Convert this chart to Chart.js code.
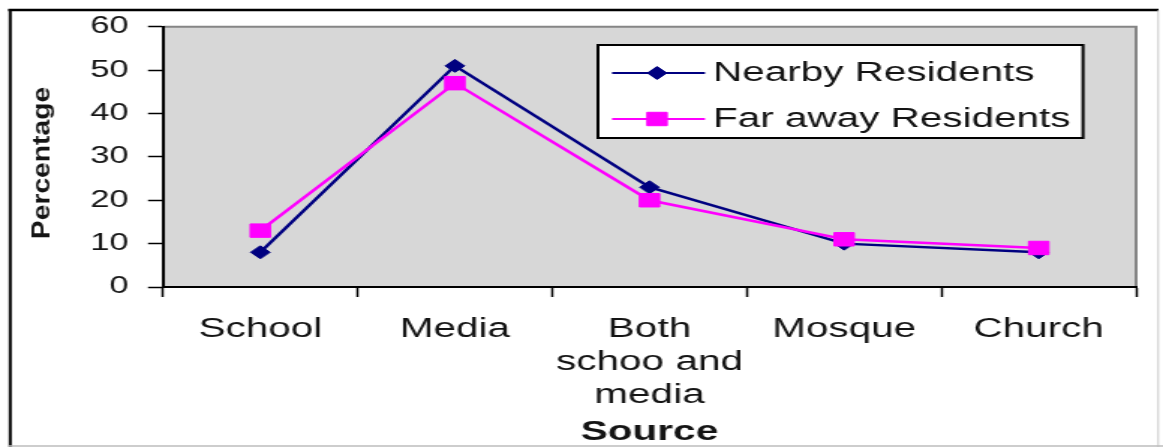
<!DOCTYPE html>
<html>
<head>
<meta charset="utf-8">
<script src="https://cdn.jsdelivr.net/npm/chart.js@4/dist/chart.umd.min.js"></script>
<style>
  html, body { margin: 0; padding: 0; background: #ffffff; overflow: hidden; }
  canvas { display: block; }
</style>
</head>
<body>
<!-- drawn on a 776px-wide canvas and shown 1163px wide (Excel-style wide look) -->
<canvas id="chart" width="776" height="447" style="width:1163px;height:447px"></canvas>
<script>
// ---- data ----
const sources = ['School', 'Media', ['Both', 'schoo and', 'media'], 'Mosque', 'Church'];
const nearbyResidents = [8, 51, 23, 10, 8];
const farAwayResidents = [13, 47, 20, 11, 9];
const seriesNames = ['Nearby Residents', 'Far away Residents'];
const yAxisTitle = 'Percentage';
const xAxisTitle = 'Source';

// ---- look ----
const STRETCH = 1163 / 776;
const FONT = '"Liberation Sans", Arial, Helvetica, sans-serif';
const NAVY = '#000080';
const MAGENTA = '#ff00ff';
const TEXT = '#141414';

// page frame, grey plot area, y title and the boxed legend
const frameAndLegend = {
  id: 'frameAndLegend',
  beforeDraw(chart) {
    const { ctx, chartArea: a, width, height } = chart;
    ctx.save();
    ctx.fillStyle = '#ffffff';
    ctx.fillRect(0, 0, width, height);

    // outer frame
    ctx.strokeStyle = '#000000';
    ctx.lineWidth = 2.5;
    ctx.beginPath(); ctx.moveTo(5.5, 10); ctx.lineTo(773, 10); ctx.stroke();
    ctx.lineWidth = 2;
    ctx.beginPath(); ctx.moveTo(6.8, 9); ctx.lineTo(6.8, 447); ctx.stroke();
    ctx.strokeStyle = '#bdbdbd';
    ctx.lineWidth = 1.5;
    ctx.beginPath(); ctx.moveTo(6, 446); ctx.lineTo(776, 446); ctx.stroke();
    ctx.lineWidth = 0.8;
    ctx.beginPath(); ctx.moveTo(772.8, 10); ctx.lineTo(772.8, 447); ctx.stroke();

    // plot area
    ctx.fillStyle = '#d7d7d7';
    ctx.fillRect(a.left, a.top, a.right - a.left, a.bottom - a.top);
    ctx.strokeStyle = '#858585';
    ctx.lineWidth = 2;
    ctx.beginPath();
    ctx.moveTo(a.left, a.top);
    ctx.lineTo(a.right, a.top);
    ctx.lineTo(a.right, a.bottom);
    ctx.stroke();
    ctx.restore();
  },
  afterDraw(chart) {
    const { ctx } = chart;
    ctx.save();

    // rotated y-axis title, kept at its natural proportions
    ctx.translate(28, 163);
    ctx.scale(1 / STRETCH, 1);
    ctx.rotate(-Math.PI / 2);
    ctx.scale(1.13, 1);
    ctx.fillStyle = TEXT;
    ctx.font = 'bold 25px ' + FONT;
    ctx.textAlign = 'center';
    ctx.textBaseline = 'middle';
    ctx.fillText(yAxisTitle, 0, 0);
    ctx.restore();

    // legend box
    ctx.save();
    const box = { left: 399, top: 45, right: 722.6, bottom: 138 };
    ctx.fillStyle = '#ffffff';
    ctx.fillRect(box.left, box.top, box.right - box.left, box.bottom - box.top);
    ctx.strokeStyle = '#000000';
    ctx.lineWidth = 2;
    ctx.strokeRect(box.left, box.top, box.right - box.left, box.bottom - box.top);

    chart.data.datasets.forEach((ds, i) => {
      const y = 73 + i * 46;
      ctx.strokeStyle = ds.borderColor;
      ctx.lineWidth = 2;
      ctx.beginPath();
      ctx.moveTo(408.4, y);
      ctx.lineTo(470.4, y);
      ctx.stroke();
      ctx.fillStyle = ds.pointBackgroundColor;
      ctx.strokeStyle = ds.pointBorderColor;
      ctx.lineWidth = 1;
      Chart.helpers.drawPoint(ctx, {
        pointStyle: ds.pointStyle,
        rotation: 0,
        radius: ds.pointRadius,
        borderWidth: 1
      }, 438.4, y);
      ctx.fillStyle = TEXT;
      ctx.font = '27px ' + FONT;
      ctx.textAlign = 'left';
      ctx.textBaseline = 'middle';
      ctx.fillText(ds.label, 475.7, y + 1);
    });
    ctx.restore();
  }
};

new Chart(document.getElementById('chart'), {
  type: 'line',
  data: {
    labels: sources,
    datasets: [
      {
        label: seriesNames[0],
        data: nearbyResidents,
        borderColor: NAVY,
        backgroundColor: NAVY,
        pointBackgroundColor: NAVY,
        pointBorderColor: NAVY,
        pointStyle: 'rectRot',
        pointRadius: 6.5,
        pointBorderWidth: 1,
        borderWidth: 2.5,
        tension: 0,
        order: 1
      },
      {
        label: seriesNames[1],
        data: farAwayResidents,
        borderColor: MAGENTA,
        backgroundColor: MAGENTA,
        pointBackgroundColor: MAGENTA,
        pointBorderColor: MAGENTA,
        pointStyle: 'rect',
        pointRadius: 9.5,
        pointBorderWidth: 1,
        borderWidth: 2.5,
        tension: 0,
        order: 0
      }
    ]
  },
  options: {
    responsive: false,
    devicePixelRatio: 1,
    animation: false,
    events: [],
    layout: { padding: { left: 0, right: 18, top: 24, bottom: 0 } },
    plugins: {
      legend: { display: false },
      tooltip: { enabled: false },
      title: { display: false }
    },
    scales: {
      x: {
        type: 'category',
        offset: true,
        grid: {
          offset: true,
          drawOnChartArea: false,
          drawTicks: true,
          tickLength: 10,
          tickWidth: 1.5,
          tickColor: '#000000',
          color: '#000000'
        },
        border: { display: true, color: '#000000', width: 2 },
        ticks: {
          color: TEXT,
          font: { family: FONT, size: 27, lineHeight: 1.22 },
          padding: 16,
          maxRotation: 0,
          minRotation: 0,
          autoSkip: false
        },
        title: {
          display: true,
          text: xAxisTitle,
          color: TEXT,
          font: { family: FONT, size: 27, weight: 'bold', lineHeight: 1.1 },
          padding: { top: 0, bottom: 0 }
        },
        afterFit(scale) { scale.height = 160; }
      },
      y: {
        min: 0,
        max: 60,
        grid: {
          drawOnChartArea: false,
          drawTicks: true,
          tickLength: 10,
          tickWidth: 1.5,
          tickColor: '#000000',
          color: '#000000'
        },
        border: { display: true, color: '#000000', width: 2 },
        ticks: {
          stepSize: 10,
          color: TEXT,
          font: { family: FONT, size: 23 },
          padding: 13
        },
        afterFit(scale) { scale.width = 108.76; }
      }
    }
  },
  plugins: [frameAndLegend]
});
</script>
</body>
</html>
